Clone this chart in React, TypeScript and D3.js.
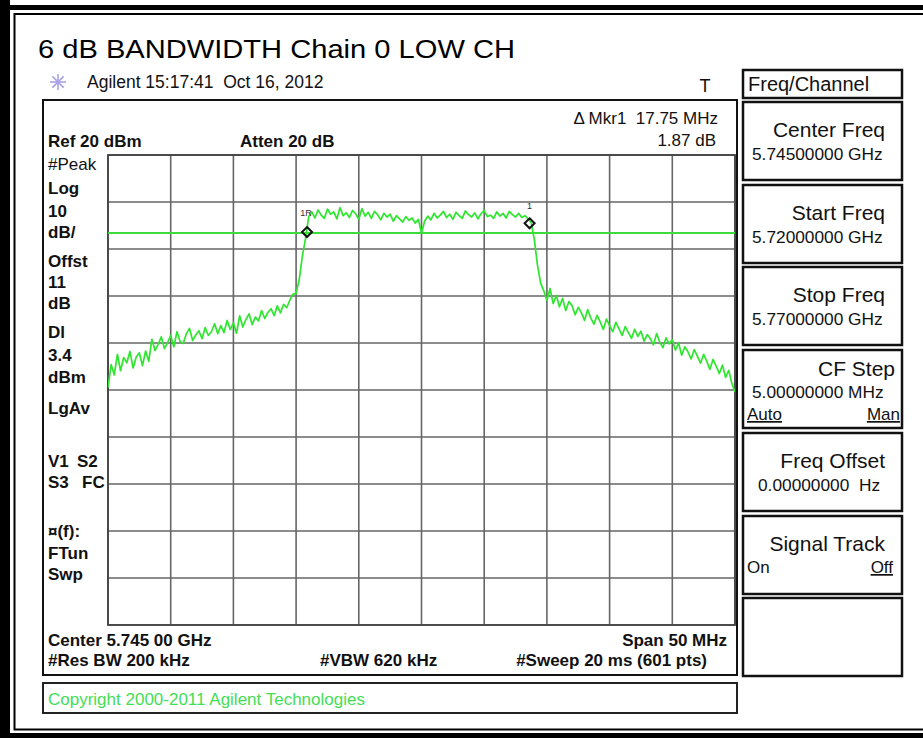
import React from "react";
import * as d3 from "d3";

// sweep settings
const startMHz = 5720;
const stopMHz = 5770;
const refLevel = 20;
const dbPerDiv = 10;
const displayLine = 3.4;

// trace, 201 points across the span (dBm)
const trace = [
  -29.5, -24.6, -26.8, -22.4, -25.9, -23.1, -24.2, -21.8, -25.3, -23.0,
  -22.1, -24.8, -21.7, -23.9, -19.2, -21.6, -20.3, -18.7, -21.2, -19.9,
  -18.4, -20.8, -17.6, -19.7, -20.1, -18.0, -16.9, -19.5, -18.3, -17.4,
  -19.1, -16.7, -18.4, -17.6, -15.9, -18.0, -16.3, -17.8, -15.2, -17.1,
  -15.7, -17.9, -14.2, -16.6, -15.0, -13.8, -16.1, -14.5, -15.3, -13.1,
  -14.8, -13.5, -12.7, -14.2, -12.1, -13.6, -11.8, -12.5, -10.9, -9.6,
  -9.5, -6.5, -1.5, 2.2, 6.8,
  7.9, 6.6, 8.3, 7.2, 6.5, 8.5, 7.4, 7.9, 6.4, 8.8,
  7.1, 7.7, 6.7, 8.2, 7.5, 6.3, 8.6, 7.0, 7.8, 6.5,
  8.0, 7.3, 6.2, 7.6, 6.8, 7.4, 5.9, 7.1, 6.4, 5.7,
  6.9, 6.1, 6.6, 5.5, 6.3,
  3.4,
  5.9, 7.0, 6.2, 7.6, 6.6, 7.2, 8.0, 6.7, 7.4, 6.3,
  7.8, 7.1, 6.5, 8.1, 7.3, 6.8, 7.7, 6.4, 7.5, 8.2,
  6.9, 7.2, 6.5, 7.9, 7.0, 7.6, 6.6, 8.0, 7.3, 6.8,
  7.6, 6.7, 7.1, 6.4, 5.6,
  2.0, -3.5, -7.2, -8.9,
  -10.9, -8.4, -11.6, -9.9, -12.3, -10.5, -13.1, -11.2, -12.0, -14.0,
  -12.4, -13.6, -15.2, -12.9, -14.7, -16.0, -14.1, -15.5, -17.1, -14.9,
  -16.3, -17.6, -15.6, -17.0, -18.4, -16.5, -17.8, -19.0, -17.1, -18.6,
  -17.5, -19.6, -18.2, -19.1, -20.4, -18.0, -19.8, -21.0, -18.9, -20.2,
  -19.3, -21.5, -20.0, -22.6, -20.8, -21.9, -23.4, -21.4, -22.8, -24.3,
  -22.4, -23.9, -25.6, -23.5, -24.9, -26.5, -24.7, -27.3, -25.8, -28.6,
  -30.4,
];

// markers: frequency (MHz), level (dBm), label
const markerFreqs = [5735.87, 5753.62];
const markerLevels = [3.6, 5.47];
const markerLabels = ["1R", "1"];

const sideLabels = ["#Peak", "Log", "10", "dB/", "Offst", "11", "dB", "Dl", "3.4", "dBm", "LgAv"];
const sideLabelsLow = ["¤(f):", "FTun", "Swp"];

const softkeyTitles = ["Center Freq", "Start Freq", "Stop Freq", "CF Step", "Freq Offset", "Signal Track", ""];
const softkeyValues = ["5.74500000 GHz", "5.72000000 GHz", "5.77000000 GHz", "5.00000000 MHz", "0.00000000  Hz", "", ""];

const font = "'Liberation Sans', Arial, sans-serif";
const green = "#2ee62e";

export default function App() {
  const gx0 = 108, gx1 = 735, gy0 = 155, gy1 = 625;
  const x = d3.scaleLinear().domain([startMHz, stopMHz]).range([gx0, gx1]);
  const y = d3
    .scaleLinear()
    .domain([refLevel - dbPerDiv * 10, refLevel])
    .range([gy1, gy0]);
  const sweep = d3.scaleLinear().domain([0, trace.length - 1]).range([startMHz, stopMHz]);

  const line = d3
    .line<number>()
    .x((d, i) => x(sweep(i)))
    .y((d) => y(d));

  const sideY = [170, 194, 217, 238, 267, 288, 309, 338, 361, 383, 414];
  const sideYLow = [537, 559, 580];
  const keyTops = [102, 185, 267, 350, 433, 516, 598];

  const bold = { fontFamily: font, fontWeight: "bold", fontSize: 17, fill: "#111" } as const;
  const norm = { fontFamily: font, fontSize: 17, fill: "#111" } as const;
  const pre = { whiteSpace: "pre" } as const;

  return (
    <div style={{ position: "absolute", left: 0, top: 0 }}>
      <svg width={923} height={738} style={{ display: "block", background: "#fff" }}>
        {/* outer frame */}
        <rect x={0} y={0} width={10} height={738} fill="#000" />
        <rect x={0} y={5} width={923} height={5} fill="#000" />
        <rect x={0} y={733} width={923} height={5} fill="#000" />
        <rect x={14.5} y={14} width={920} height={715.5} fill="none" stroke="#000" strokeWidth={2} />

        <text x={38} y={58} fontFamily={font} fontSize={26} fill="#000" textLength={477} lengthAdjust="spacingAndGlyphs">
          6 dB BANDWIDTH Chain 0 LOW CH
        </text>

        {/* agilent logo */}
        <g stroke="#aaa2e6" strokeWidth={1.6}>
          {[0, 45, 90, 135].map((a) => (
            <line
              key={a}
              x1={58 - 8 * Math.cos((a * Math.PI) / 180)}
              y1={82 - 8 * Math.sin((a * Math.PI) / 180)}
              x2={58 + 8 * Math.cos((a * Math.PI) / 180)}
              y2={82 + 8 * Math.sin((a * Math.PI) / 180)}
            />
          ))}
        </g>
        <text x={87} y={88} {...norm} fontSize={17.5} style={pre}>
          Agilent 15:17:41  Oct 16, 2012
        </text>
        <text x={705} y={92} {...norm} fontSize={18} textAnchor="middle">T</text>

        {/* screen box */}
        <rect x={43} y={100} width={694} height={575} fill="none" stroke="#111" strokeWidth={2} />
        <text x={48} y={147} {...bold}>Ref 20 dBm</text>
        <text x={240} y={147} {...bold}>Atten 20 dB</text>
        <text x={718} y={124} {...norm} textAnchor="end" style={pre}>Δ Mkr1  17.75 MHz</text>
        <text x={716} y={146} {...norm} textAnchor="end">1.87 dB</text>

        {sideLabels.map((t, i) => (
          <text key={t + i} x={48} y={sideY[i]} {...bold} fontWeight={i === 0 ? "normal" : "bold"}>
            {t}
          </text>
        ))}
        <text x={48} y={467} {...bold}>V1</text>
        <text x={77} y={467} {...bold}>S2</text>
        <text x={48} y={488} {...bold}>S3</text>
        <text x={82} y={488} {...bold}>FC</text>
        {sideLabelsLow.map((t, i) => (
          <text key={t} x={48} y={sideYLow[i]} {...bold}>{t}</text>
        ))}

        {/* graticule */}
        <g stroke="#666" strokeWidth={1.6}>
          {x.ticks(10).map((f) => (
            <line key={"v" + f} x1={x(f)} x2={x(f)} y1={gy0} y2={gy1} />
          ))}
          {y.ticks(10).map((v) => (
            <line key={"h" + v} x1={gx0} x2={gx1} y1={y(v)} y2={y(v)} />
          ))}
        </g>
        <rect x={gx0} y={gy0} width={gx1 - gx0} height={gy1 - gy0} fill="none" stroke="#444" strokeWidth={1.8} />

        <clipPath id="grid">
          <rect x={gx0} y={gy0} width={gx1 - gx0} height={gy1 - gy0} />
        </clipPath>
        <g clipPath="url(#grid)">
          <line x1={gx0} x2={gx1} y1={y(displayLine)} y2={y(displayLine)} stroke="#3ddc3d" strokeWidth={1.8} />
          <path d={line(trace) ?? ""} fill="none" stroke={green} strokeWidth={1.7} strokeLinejoin="round" />
        </g>

        {markerFreqs.map((f, i) => {
          const mx = x(f);
          const my = y(markerLevels[i]);
          return (
            <g key={i}>
              <path
                d={`M${mx},${my - 5} L${mx + 5},${my} L${mx},${my + 5} L${mx - 5},${my} Z`}
                fill="none"
                stroke="#111"
                strokeWidth={2}
              />
              <text x={mx - (i === 0 ? 1 : 0)} y={my - (i === 0 ? 16 : 14)} fontFamily={font} fontSize={9} fill="#333" textAnchor="middle">
                {markerLabels[i]}
              </text>
            </g>
          );
        })}

        <text x={48} y={646} {...bold}>Center 5.745 00 GHz</text>
        <text x={727} y={646} {...bold} textAnchor="end">Span 50 MHz</text>
        <text x={48} y={666} {...bold}>#Res BW 200 kHz</text>
        <text x={320} y={666} {...bold}>#VBW 620 kHz</text>
        <text x={707} y={666} {...bold} textAnchor="end">#Sweep 20 ms (601 pts)</text>

        {/* copyright bar */}
        <rect x={43} y={683} width={694} height={30} fill="none" stroke="#222" strokeWidth={2} />
        <text x={48} y={705} fontFamily={font} fontSize={17} fill="#45dd55">
          Copyright 2000-2011 Agilent Technologies
        </text>

        {/* softkey panel */}
        <rect x={743} y={70} width={159} height={28} fill="none" stroke="#111" strokeWidth={2.5} />
        <text x={748} y={91} {...norm} fontSize={20}>Freq/Channel</text>
        {keyTops.map((t, i) => (
          <g key={t}>
            <rect x={743} y={t} width={159} height={78} fill="none" stroke="#111" strokeWidth={2.5} />
            {softkeyTitles[i] && (
              <text x={i === 3 ? 895 : 885} y={t + (i === 3 ? 26 : 35)} {...norm} fontSize={21} textAnchor="end">
                {softkeyTitles[i]}
              </text>
            )}
            {softkeyValues[i] && (
              <text x={i === 4 ? 758 : 752} y={t + (i === 3 ? 48 : 58)} {...norm} fontSize={17.3} style={pre}>
                {softkeyValues[i]}
              </text>
            )}
          </g>
        ))}
        <text x={747} y={420} {...norm} textDecoration="underline">Auto</text>
        <text x={900} y={420} {...norm} textAnchor="end" textDecoration="underline">Man</text>
        <text x={747} y={573} {...norm}>On</text>
        <text x={893} y={573} {...norm} textAnchor="end" textDecoration="underline">Off</text>
      </svg>
    </div>
  );
}
